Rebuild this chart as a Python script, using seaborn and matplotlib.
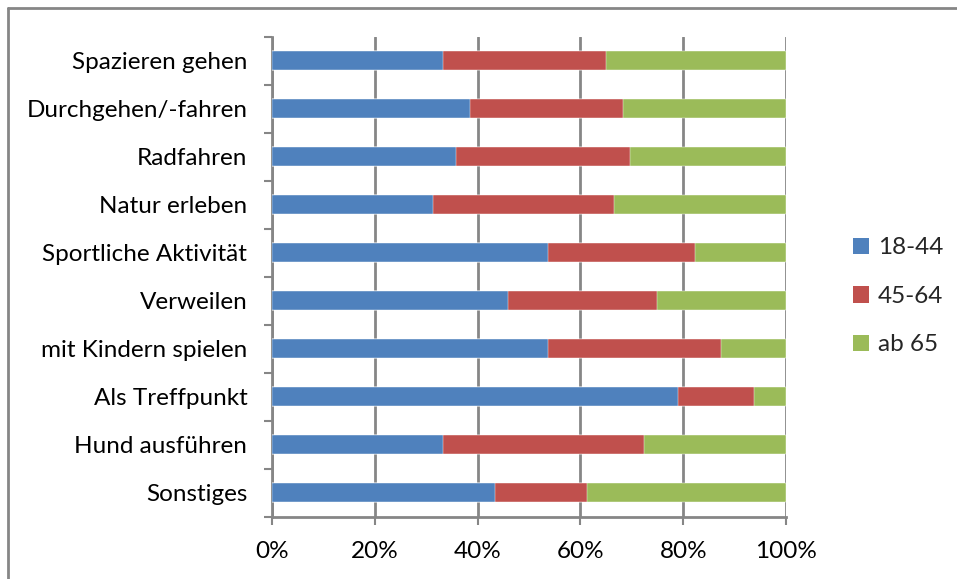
import matplotlib
matplotlib.use("Agg")
import matplotlib.pyplot as plt
from matplotlib.lines import Line2D
from matplotlib.patches import Patch
from matplotlib.ticker import FixedLocator, PercentFormatter
import numpy as np
import pandas as pd
import seaborn as sns

# Activities and share of each age group (percent of respondents)
activities = [
    "Spazieren gehen", "Durchgehen/-fahren", "Radfahren", "Natur erleben",
    "Sportliche Aktivität", "Verweilen", "mit Kindern spielen",
    "Als Treffpunkt", "Hund ausführen", "Sonstiges",
]
age_groups = ["18-44", "45-64", "ab 65"]
share_18_44 = [33.3, 38.4, 35.8, 31.2, 53.6, 45.8, 53.6, 78.9, 33.3, 43.4]
share_45_64 = [31.7, 29.9, 33.9, 35.3, 28.7, 29.1, 33.8, 14.9, 39.1, 17.9]
share_ab_65 = [35.0, 31.7, 30.3, 33.5, 17.7, 25.1, 12.6, 6.2, 27.6, 38.7]
colors = ["#4F81BD", "#C0504D", "#9BBB59"]

sns.set_theme(style="white")
plt.rcParams["font.family"] = ["Lato", "DejaVu Sans"]

df = pd.DataFrame({
    "activity": activities,
    "g1": share_18_44,
    "g2": share_45_64,
    "g3": share_ab_65,
})
df["c1"] = df["g1"]
df["c2"] = df["g1"] + df["g2"]
df["c3"] = df["g1"] + df["g2"] + df["g3"]

fig = plt.figure(figsize=(9.57, 5.79), dpi=100)
ax = fig.add_axes([0.2845, 0.1076, 0.8213 - 0.2845, 0.9366 - 0.1076])

# stacked bars: draw cumulative totals from widest to narrowest
for col, color in zip(["c3", "c2", "c1"], colors[::-1]):
    sns.barplot(data=df, x=col, y="activity", orient="h", color=color,
                width=0.4, saturation=1, ax=ax, order=activities,
                edgecolor="white", linewidth=0.3, zorder=3)

grid_color = "#868686"
fs = 17.5
ax.set_xlim(0, 100)
ax.set_ylim(len(activities) - 0.5, -0.5)
ax.xaxis.set_major_locator(FixedLocator([0, 20, 40, 60, 80, 100]))
ax.xaxis.set_major_formatter(PercentFormatter(decimals=0))
ax.grid(axis="x", color=grid_color, linewidth=2, zorder=0)
ax.set_axisbelow(True)
ax.set_xlabel("")
ax.set_ylabel("")

for side in ["top", "right"]:
    ax.spines[side].set_visible(False)
for side in ["left", "bottom"]:
    ax.spines[side].set_color(grid_color)
    ax.spines[side].set_linewidth(2)

ax.tick_params(axis="x", which="major", length=5.5, width=1.5, color=grid_color,
               labelsize=fs, pad=12, direction="out", bottom=True)
ax.tick_params(axis="y", which="major", length=0, labelsize=fs, pad=18, left=True)
ax.yaxis.set_minor_locator(FixedLocator(np.arange(-0.5, len(activities), 1.0)))
ax.tick_params(axis="y", which="minor", length=6, width=1.5, color=grid_color,
               direction="out", left=True)
for lab in ax.get_xticklabels() + ax.get_yticklabels():
    lab.set_color("black")

handles = [Patch(facecolor=c, edgecolor="none") for c in colors]
fig.legend(handles, age_groups, loc="center left", bbox_to_anchor=(0.874, 0.488),
           frameon=False, fontsize=fs, handlelength=0.65, handleheight=0.65,
           handletextpad=0.35, labelspacing=1.13, borderpad=0.2)

# outer chart frame (top and left edges)
fig.add_artist(Line2D([0.008, 1.0], [1 - 8 / 579, 1 - 8 / 579], transform=fig.transFigure,
                      color=grid_color, linewidth=2))
fig.add_artist(Line2D([0.008, 0.008], [0.0, 1 - 8 / 579], transform=fig.transFigure,
                      color=grid_color, linewidth=2))

fig.savefig("out.png", dpi=100, facecolor="white")
